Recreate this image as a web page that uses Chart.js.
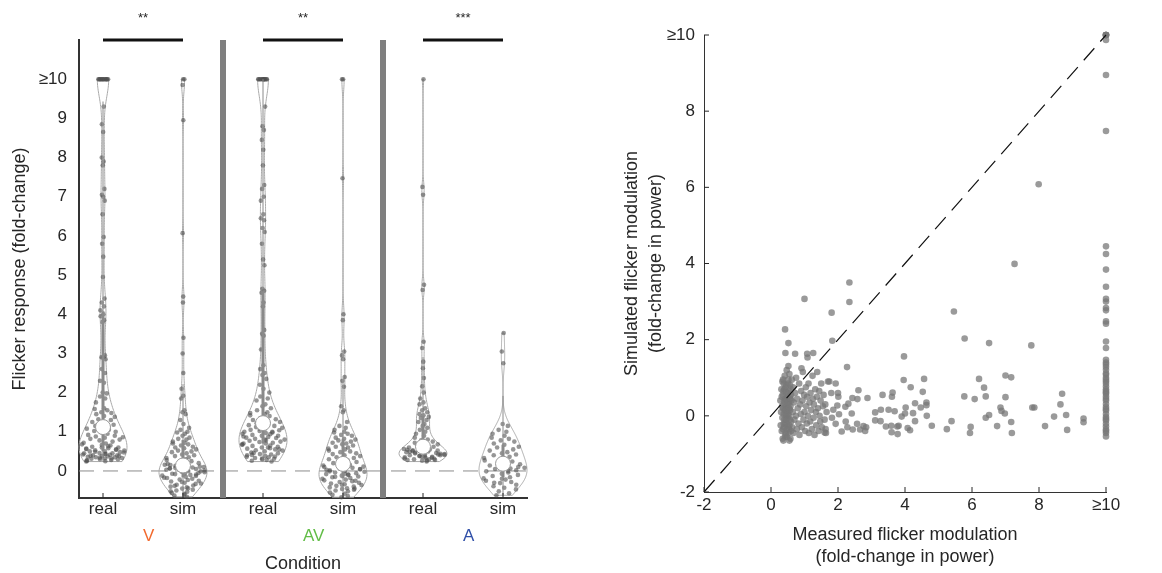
<!DOCTYPE html>
<html>
<head>
<meta charset="utf-8">
<script src="https://cdn.jsdelivr.net/npm/chart.js@4/dist/chart.umd.min.js"></script>
<style>
  html, body { margin: 0; padding: 0; background: #fff; }
  #wrap { position: relative; width: 1162px; height: 573px; }
  #violin { position: absolute; left: 0; top: 0; }
  #scatter { position: absolute; left: 600px; top: 0; }
</style>
</head>
<body>
<div id="wrap">
  <canvas id="violin" width="600" height="573"></canvas>
  <canvas id="scatter" width="562" height="573"></canvas>
</div>
<script>
// ---------- flicker response per condition (fold-change, >=10 clipped to 10) ----------
const realV = [
  10, 10, 10, 10, 10, 10, 10, 10, 10, 10, 10, 10, 10, 10,
  9.3, 8.85, 8.65, 8.0, 7.9, 7.8, 7.2, 7.05, 7.0, 6.9,
  6.55, 5.97, 5.8, 5.47, 4.95, 4.4, 4.3, 4.2, 4.1, 4.0,
  3.95, 3.85, 3.8, 2.95, 2.9, 2.9, 2.85, 2.6, 2.5, 2.3,
  2.25, 2.0, 1.98, 1.9, 1.85, 1.75, 1.6, 1.58, 1.55, 1.5,
  1.48, 1.45, 1.4, 1.38, 1.32, 1.3, 1.25, 1.22, 1.2, 1.18, 1.15, 1.12,
  0.24, 0.25, 0.26, 0.28, 0.3, 0.3, 0.31, 0.32, 0.33, 0.35,
  0.35, 0.36, 0.37, 0.38, 0.4, 0.4, 0.41, 0.42, 0.43, 0.45,
  0.45, 0.46, 0.48, 0.5, 0.5, 0.52, 0.53, 0.55, 0.56, 0.58,
  0.6, 0.6, 0.62, 0.65, 0.68, 0.7, 0.72, 0.75, 0.78, 0.8,
  0.82, 0.85, 0.86, 0.88, 0.9, 0.92, 0.95, 0.98, 1.0, 1.02,
  1.05, 1.08, 1.1, 0.27, 0.32, 0.34, 0.38, 0.39, 0.44, 0.47,
  0.49, 0.54, 0.57, 0.63, 0.66
];
const simV = [
  10, 10, 9.85, 8.95, 6.07, 4.45, 4.3, 3.4, 3.0, 2.5,
  2.1, 1.92, 1.85, 1.55, 1.5, 1.45, 1.3, 1.2, 1.1, 1.05,
  1.0, 0.98, 0.95, 0.9, 0.85, 0.82, 0.8, 0.75, 0.72, 0.7,
  0.68, 0.65, 0.62, 0.6, 0.58, 0.55, 0.52, 0.5, 0.48, 0.45,
  0.42, 0.4, 0.38, 0.35, 0.33, 0.3, 0.28, 0.25, 0.22, 0.2,
  0.15, 0.12, 0.1, 0.08, 0.05, 0.03, 0.0, -0.02, -0.05, -0.07,
  -0.1, -0.12, -0.15, -0.17, -0.2, -0.22, -0.25, -0.27, -0.3, -0.32,
  -0.35, -0.37, -0.4, -0.42, -0.45, -0.48, -0.5, -0.53, -0.56, -0.6,
  -0.63, -0.66, 0.14, 0.11, 0.06, 0.02, -0.03, -0.08, -0.13, -0.18,
  -0.23, -0.28, -0.33, -0.38, -0.44, -0.52, -0.58, 0.16, 0.09, 0.04,
  -0.01, 0.07, -0.06, 0.01, 0.13, -0.09, 0.18
];
const realAV = [
  10, 10, 10, 10, 10, 10, 10, 10, 10, 10, 10, 10, 10,
  9.3, 8.8, 8.7, 8.45, 8.2, 7.8, 7.3, 7.2, 7.0, 6.9,
  6.55, 6.45, 6.4, 6.2, 6.1, 5.8, 5.4, 5.25, 4.65, 4.6,
  4.55, 4.3, 4.2, 3.6, 3.5, 3.45, 3.1, 2.7, 2.6, 2.5,
  2.45, 2.35, 2.2, 2.1, 2.0, 1.9, 1.85, 1.8, 1.7, 1.65,
  1.6, 1.55, 1.5, 1.48, 1.45, 1.42, 1.4, 1.35, 1.32, 1.3, 1.28, 1.25, 1.22,
  0.24, 0.26, 0.28, 0.3, 0.31, 0.33, 0.35, 0.36, 0.38, 0.4,
  0.42, 0.43, 0.45, 0.47, 0.5, 0.52, 0.53, 0.55, 0.57, 0.6,
  0.6, 0.62, 0.64, 0.65, 0.67, 0.7, 0.7, 0.72, 0.74, 0.75,
  0.77, 0.8, 0.8, 0.82, 0.84, 0.85, 0.87, 0.9, 0.9, 0.92,
  0.94, 0.95, 0.97, 1.0, 1.0, 1.02, 1.04, 1.05, 1.07, 1.1,
  1.12, 1.15, 1.17, 1.2, 0.32, 0.37, 0.46, 0.58, 0.68, 0.78,
  0.88, 0.98, 1.08, 0.55, 0.41
];
const simAV = [
  10, 10, 7.47, 4.0, 3.85, 3.05, 2.95, 2.85, 2.4, 2.3,
  2.15, 1.65, 1.55, 1.5, 1.25, 1.15, 1.1, 1.05, 1.0, 0.98,
  0.95, 0.92, 0.9, 0.85, 0.82, 0.8, 0.78, 0.75, 0.72, 0.7,
  0.68, 0.65, 0.62, 0.6, 0.57, 0.55, 0.52, 0.5, 0.48, 0.45,
  0.43, 0.4, 0.38, 0.35, 0.33, 0.3, 0.28, 0.25, 0.23, 0.2,
  0.16, 0.14, 0.12, 0.1, 0.08, 0.06, 0.04, 0.02, 0.0, -0.02,
  -0.04, -0.06, -0.08, -0.1, -0.12, -0.14, -0.16, -0.18, -0.2, -0.22,
  -0.24, -0.26, -0.28, -0.3, -0.32, -0.34, -0.36, -0.38, -0.4, -0.42,
  -0.44, -0.46, -0.48, -0.5, -0.52, -0.55, -0.58, -0.61, -0.64, -0.67,
  0.05, -0.01, -0.07, 0.11, -0.15, -0.25, 0.03, -0.09, -0.35, -0.45
];
const realA = [
  10, 7.25, 7.05, 4.75, 4.62, 3.3, 3.14, 2.79, 2.62, 2.37,
  2.16, 2.0, 1.85, 1.75, 1.7, 1.6, 1.55, 1.5, 1.45, 1.42,
  1.38, 1.35, 1.3, 1.25, 1.2, 1.15, 1.1, 1.05, 1.0, 0.95,
  0.9, 0.85, 0.8, 0.78, 0.75, 0.72, 0.7, 0.68, 0.65, 0.62, 0.6,
  0.24, 0.26, 0.28, 0.3, 0.3, 0.32, 0.33, 0.35, 0.36, 0.38,
  0.4, 0.4, 0.42, 0.43, 0.45, 0.46, 0.48, 0.5, 0.5, 0.52,
  0.53, 0.55, 0.56, 0.58, 0.28, 0.34, 0.39, 0.44, 0.49, 0.37,
  0.41, 0.47, 0.31, 0.54, 0.27, 0.36, 0.42, 0.51
];
const simA = [
  3.52, 3.05, 2.75, 1.2, 1.15, 1.05, 1.0, 0.95, 0.9, 0.85,
  0.82, 0.78, 0.75, 0.7, 0.67, 0.62, 0.6, 0.55, 0.52, 0.48,
  0.45, 0.42, 0.4, 0.36, 0.33, 0.3, 0.27, 0.24, 0.2, 0.17,
  0.14, 0.11, 0.08, 0.05, 0.02, -0.01, -0.04, -0.07, -0.1, -0.13,
  -0.16, -0.19, -0.22, -0.25, -0.28, -0.31, -0.35, -0.39, -0.43, -0.47,
  -0.52, -0.57, -0.62, 0.0, -0.2, 0.1, -0.3, 0.06
];

const tickNames = ['real', 'sim', 'real', 'sim', 'real', 'sim'];
const tickPos = [1, 2, 3, 4, 5, 6];
const conditions = ['V', 'AV', 'A'];
const conditionColors = ['#f26a2e', '#62bd47', '#2f4fa8'];
const conditionPos = [1.5, 3.5, 5.5];
const dividerPos = [2.5, 4.5];
const significance = ['**', '**', '***'];
const yTicksLeft = [0, 1, 2, 3, 4, 5, 6, 7, 8, 9, 10];

// ---------- measured vs simulated modulation, one pair per neuron ----------
const neuronPairs = [
  // dense low cluster
  [0.30, 0.10], [0.32, -0.40], [0.35, 0.55], [0.36, 0.95], [0.38, -0.20], [0.40, 0.30], [0.41, 1.05], [0.42, -0.55], [0.43, 0.75], [0.44, 0.05],
  [0.45, -0.10], [0.46, 0.45], [0.47, 1.20], [0.48, -0.35], [0.49, 0.20], [0.50, 0.60], [0.50, -0.05], [0.51, 0.85], [0.52, -0.45], [0.53, 0.35],
  [0.54, 0.00], [0.55, 1.10], [0.55, -0.25], [0.56, 0.50], [0.57, 0.15], [0.58, -0.60], [0.59, 0.70], [0.60, -0.15], [0.61, 0.40], [0.62, 0.95],
  [0.33, 0.25], [0.34, -0.05], [0.37, 0.65], [0.39, -0.30], [0.41, 0.15], [0.43, -0.45], [0.44, 0.40], [0.46, 0.00], [0.47, -0.20], [0.49, 0.50],
  [0.31, 0.70], [0.35, -0.60], [0.38, 0.85], [0.40, -0.10], [0.42, 0.45], [0.45, 0.25], [0.48, 0.10], [0.52, 0.30], [0.54, -0.35], [0.57, 0.80],
  [0.28, 0.40], [0.29, -0.25], [0.36, 0.20], [0.44, -0.50], [0.51, 0.05], [0.53, 0.65], [0.58, 0.25], [0.60, 0.55], [0.63, -0.30], [0.65, 0.10],
  [0.32, 0.50], [0.34, 0.90], [0.36, -0.35], [0.38, 0.05], [0.40, 0.70], [0.42, -0.20], [0.44, 0.15], [0.46, 0.80], [0.48, -0.55], [0.50, 0.35],
  [0.52, 0.95], [0.54, 0.20], [0.56, -0.10], [0.58, 0.45], [0.60, -0.40], [0.37, -0.65], [0.55, -0.65], [0.45, 0.62], [0.39, 0.38], [0.51, -0.28],
  [0.66, 0.75], [0.67, -0.45], [0.68, 0.35], [0.70, -0.10], [0.72, 0.60], [0.74, 0.00], [0.75, 1.00], [0.77, -0.35], [0.78, 0.45], [0.80, 0.20],
  [0.82, -0.20], [0.84, 0.85], [0.85, -0.50], [0.87, 0.30], [0.89, 0.05], [0.90, 0.65], [0.92, -0.30], [0.94, 0.40], [0.95, 1.15], [0.97, -0.10],
  [0.99, 0.55], [1.00, 0.10], [1.02, -0.40], [1.04, 0.75], [1.05, 0.25], [1.07, -0.20], [1.08, 0.50], [1.10, 0.00], [1.12, 0.85], [1.13, -0.45],
  [1.15, 0.35], [1.17, -0.15], [1.18, 0.60], [1.20, 0.15], [1.22, -0.35], [1.24, 1.05], [1.25, 0.45], [1.27, -0.05], [1.28, 0.30], [1.30, -0.50],
  [1.32, 0.70], [1.34, 0.10], [1.35, -0.25], [1.37, 0.50], [1.38, 1.15], [1.40, 0.20], [1.42, -0.40], [1.44, 0.65], [1.45, 0.00], [1.47, -0.15],
  [1.48, 0.40], [1.50, 0.85], [1.52, -0.30], [1.55, 0.25], [1.57, 0.55], [1.60, -0.10], [1.62, 0.30], [1.64, -0.45], [1.66, 0.10], [1.70, 0.90],
  // upper scatter near the identity line
  [1.00, 3.07], [2.34, 3.50], [2.34, 2.99], [1.81, 2.71], [0.42, 2.27], [0.52, 1.91], [1.83, 1.97], [0.43, 1.65], [0.72, 1.63], [1.08, 1.63],
  [1.26, 1.65], [1.09, 1.53], [2.27, 1.28], [0.52, 1.31], [0.91, 1.25],
  // 1.6 - 3
  [1.74, 0.90], [1.93, 0.85], [2.00, 0.60], [2.01, 0.50], [2.43, 0.47], [2.58, 0.44], [2.61, 0.67], [2.88, 0.47], [2.31, 0.32], [2.22, 0.24],
  [2.41, 0.06], [2.23, -0.15], [2.11, -0.41], [2.28, -0.30], [2.44, -0.36], [2.57, -0.21], [2.66, -0.36], [2.76, -0.27], [2.81, -0.40], [2.84, -0.30],
  [1.93, -0.21], [1.98, 0.27], [1.86, 0.16], [2.03, 0.04], [1.82, -0.05], [1.60, -0.44], [1.63, -0.35], [1.80, 0.60],
  // 3 - 9.4
  [3.97, 1.56], [3.96, 0.94], [4.17, 0.75], [4.57, 0.97], [4.53, 0.63], [3.63, 0.61], [3.33, 0.55], [3.61, 0.50], [4.30, 0.33], [4.64, 0.35],
  [4.64, 0.28], [4.47, 0.22], [4.02, 0.22], [3.51, 0.16], [3.28, 0.16], [3.11, 0.09], [3.69, 0.12], [4.24, 0.07], [4.65, 0.00], [3.90, -0.02],
  [4.00, 0.06], [3.11, -0.12], [3.27, -0.14], [4.30, -0.14], [3.43, -0.28], [3.59, -0.26], [3.77, -0.28], [3.81, -0.26], [4.08, -0.32], [4.15, -0.38],
  [3.60, -0.43], [3.78, -0.48], [4.80, -0.26], [5.25, -0.35], [5.39, -0.14], [5.46, 2.74], [5.78, 2.03], [6.51, 1.91], [7.77, 1.85], [7.27, 3.99],
  [7.99, 6.08], [5.77, 0.51], [6.08, 0.44], [6.21, 0.97], [6.36, 0.74], [6.41, 0.51], [5.96, -0.29], [5.94, -0.45], [6.41, -0.05], [6.51, 0.02],
  [6.75, -0.27], [6.85, 0.22], [6.88, 0.13], [7.00, 1.06], [7.17, 1.01], [7.00, 0.49], [6.98, 0.06], [7.17, -0.16], [7.19, -0.45], [7.80, 0.22],
  [7.86, 0.22], [8.18, -0.27], [8.45, -0.02], [8.64, 0.30], [8.69, 0.58], [8.81, 0.02], [8.84, -0.37], [9.33, -0.07], [9.33, -0.17],
  // measured >= 10
  [10, 10], [10, 10], [10, 10], [10, 10], [10, 10], [10, 9.87], [10, 8.95], [10, 7.48], [10, 4.45], [10, 4.25],
  [10, 3.84], [10, 3.39], [10, 3.07], [10, 3.00], [10, 2.83], [10, 2.77], [10, 2.48], [10, 2.42], [10, 1.95], [10, 1.78],
  [10, 1.47], [10, 1.40], [10, 1.28], [10, 1.21], [10, 1.08], [10, 1.00], [10, 0.90], [10, 0.84], [10, 0.77], [10, 0.70],
  [10, 0.61], [10, 0.51], [10, 0.40], [10, 0.31], [10, 0.23], [10, 0.14], [10, 0.05], [10, -0.03], [10, -0.12], [10, -0.21],
  [10, -0.28], [10, -0.36], [10, -0.45], [10, -0.54], [10, 1.12], [10, 0.95], [10, 0.65], [10, 0.45], [10, 0.18], [10, -0.08],
  [10, -0.40], [10, 1.35], [10, 0.58]
];
const identityLine = [-2, 10];
const scatterTicks = [-2, 0, 2, 4, 6, 8, 10];

const FONT = '"Liberation Sans", Arial, Helvetica, sans-serif';
const INK = '#262626';

// spread of points across the violin, as a fraction of the local half-width
const jitterFrac = [-0.82, 0.41, -0.15, 0.73, -0.56, 0.08, 0.9, -0.33, 0.55, -0.7, 0.22, -0.05, 0.64, -0.45, 0.31, -0.88, 0.12];

// MATLAB-style quantile on sorted values
function quantile(s, p) {
    const n = s.length;
    const h = n * p + 0.5;
    if (h <= 1) return s[0];
    if (h >= n) return s[n - 1];
    const lo = Math.floor(h);
    return s[lo - 1] + (h - lo) * (s[lo] - s[lo - 1]);
}

// kernel density outline + box stats, the way violinplot does it
function buildViolin(vals, pos) {
    const s = [...vals].sort((a, b) => a - b);
    const n = s.length;
    const med = quantile(s, 0.5);
    const dev = s.map(v => Math.abs(v - med)).sort((a, b) => a - b);
    const bw = (quantile(dev, 0.5) / 0.6745) * Math.pow(4 / (3 * n), 0.2);
    const dens = t => s.reduce((acc, v) => acc + Math.exp(-0.5 * ((t - v) / bw) ** 2), 0);
    const lo = s[0], hi = s[n - 1];
    const ys = [], ds = [];
    for (let i = 0; i <= 240; i++) {
        const t = lo + (hi - lo) * i / 240;
        ys.push(t);
        ds.push(dens(t));
    }
    const peak = Math.max(...ds);
    const half = t => 0.3 * dens(t) / peak;
    const q1 = quantile(s, 0.25), q3 = quantile(s, 0.75);
    const iqr = q3 - q1;
    return {
        pos, ys, ws: ds.map(d => 0.3 * d / peak), half,
        med, q1, q3,
        wLo: Math.max(q1 - 1.5 * iqr, lo),
        wHi: Math.min(q3 + 1.5 * iqr, hi),
    };
}

const groupVals = [realV, simV, realAV, simAV, realA, simA];
const violins = groupVals.map((v, i) => buildViolin(v, tickPos[i]));

const violinDatasets = groupVals.map((vals, g) => ({
    data: vals.map((v, i) => ({
        x: violins[g].pos + jitterFrac[(i + g * 5) % jitterFrac.length] * violins[g].half(v),
        y: v,
    })),
    pointRadius: 2.3,
    pointBackgroundColor: 'rgba(80,80,80,0.6)',
    pointBorderWidth: 0,
    clip: false,
}));

const violinLayer = {
    id: 'violinLayer',
    beforeDatasetsDraw(chart) {
        const { ctx, chartArea: a, scales: { x, y } } = chart;
        ctx.save();
        // zero reference
        ctx.strokeStyle = '#8c8c8c';
        ctx.lineWidth = 1;
        ctx.setLineDash([15, 9]);
        ctx.beginPath();
        ctx.moveTo(a.left, y.getPixelForValue(0));
        ctx.lineTo(a.right, y.getPixelForValue(0));
        ctx.stroke();
        ctx.setLineDash([]);
        // condition dividers
        ctx.fillStyle = '#7f7f7f';
        dividerPos.forEach(d => {
            const px = x.getPixelForValue(d);
            ctx.fillRect(px - 3, a.top, 6, a.bottom - a.top);
        });
        // violin outlines
        ctx.strokeStyle = '#a9a9a9';
        ctx.lineWidth = 1;
        violins.forEach(v => {
            ctx.beginPath();
            v.ys.forEach((t, i) => {
                const px = x.getPixelForValue(v.pos + v.ws[i]);
                const py = y.getPixelForValue(t);
                if (i === 0) ctx.moveTo(px, py); else ctx.lineTo(px, py);
            });
            for (let i = v.ys.length - 1; i >= 0; i--) {
                ctx.lineTo(x.getPixelForValue(v.pos - v.ws[i]), y.getPixelForValue(v.ys[i]));
            }
            ctx.closePath();
            ctx.stroke();
        });
        ctx.restore();
    },
    afterDatasetsDraw(chart) {
        const { ctx, chartArea: a, scales: { x, y } } = chart;
        ctx.save();
        violins.forEach(v => {
            const px = x.getPixelForValue(v.pos);
            // whiskers
            ctx.strokeStyle = '#8a8a8a';
            ctx.lineWidth = 1;
            ctx.beginPath();
            ctx.moveTo(px, y.getPixelForValue(v.wLo));
            ctx.lineTo(px, y.getPixelForValue(v.wHi));
            ctx.stroke();
            // interquartile box
            ctx.fillStyle = '#8a8a8a';
            const top = y.getPixelForValue(v.q3), bot = y.getPixelForValue(v.q1);
            ctx.fillRect(px - 1.5, top, 3, bot - top);
            // median marker
            ctx.beginPath();
            ctx.arc(px, y.getPixelForValue(v.med), 7.5, 0, Math.PI * 2);
            ctx.fillStyle = '#fff';
            ctx.fill();
            ctx.strokeStyle = '#9a9a9a';
            ctx.stroke();
        });
        // tick marks inside the bottom axis
        ctx.strokeStyle = INK;
        ctx.lineWidth = 1;
        tickPos.forEach(t => {
            const px = x.getPixelForValue(t);
            ctx.beginPath();
            ctx.moveTo(px, a.bottom);
            ctx.lineTo(px, a.bottom - 5);
            ctx.stroke();
        });
        // significance bars and stars
        ctx.strokeStyle = '#111';
        ctx.lineWidth = 3;
        ctx.fillStyle = INK;
        ctx.font = '13px ' + FONT;
        ctx.textAlign = 'center';
        ctx.textBaseline = 'middle';
        significance.forEach((label, i) => {
            const x1 = x.getPixelForValue(tickPos[i * 2]);
            const x2 = x.getPixelForValue(tickPos[i * 2 + 1]);
            const py = y.getPixelForValue(11);
            ctx.beginPath();
            ctx.moveTo(x1, py);
            ctx.lineTo(x2, py);
            ctx.stroke();
            ctx.fillText(label, (x1 + x2) / 2, py - 22);
        });
        // condition names
        ctx.font = '17px ' + FONT;
        ctx.textAlign = 'left';
        conditions.forEach((c, i) => {
            ctx.fillStyle = conditionColors[i];
            ctx.fillText(c, x.getPixelForValue(conditionPos[i]), 536);
        });
        ctx.font = '18px ' + FONT;
        ctx.fillStyle = INK;
        ctx.textAlign = 'center';
        ctx.fillText('Condition', x.getPixelForValue(3.5), 564);
        // y title
        ctx.translate(20, (a.top + a.bottom) / 2);
        ctx.rotate(-Math.PI / 2);
        ctx.fillText('Flicker response (fold-change)', 0, 0);
        ctx.restore();
    },
};

new Chart(document.getElementById('violin'), {
    type: 'scatter',
    data: { datasets: violinDatasets },
    options: {
        responsive: false,
        animation: false,
        layout: { padding: { top: 40, right: 73, left: 0, bottom: 0 } },
        plugins: { legend: { display: false }, tooltip: { enabled: false } },
        scales: {
            x: {
                type: 'linear', min: 0.7, max: 6.3,
                afterBuildTicks: s => { s.ticks = tickPos.map(v => ({ value: v })); },
                afterFit: s => { s.height = 75; },
                ticks: {
                    callback: (v, i) => tickNames[i],
                    color: INK, padding: 1, maxRotation: 0,
                    font: { size: 17, family: FONT },
                },
                grid: { display: false, drawTicks: false },
                border: { display: true, color: '#333', width: 2 },
            },
            y: {
                type: 'linear', min: -0.69, max: 11,
                afterBuildTicks: s => { s.ticks = yTicksLeft.map(v => ({ value: v })); },
                afterFit: s => { s.width = 79; },
                ticks: {
                    callback: v => (v === 10 ? '≥10' : v),
                    color: INK, padding: 12,
                    font: { size: 17, family: FONT },
                },
                grid: { display: false, drawTicks: false },
                border: { display: true, color: '#333', width: 2 },
            },
        },
    },
    plugins: [violinLayer],
});

// ---------- right panel ----------
const scatterLayer = {
    id: 'scatterLayer',
    afterDraw(chart) {
        const { ctx, chartArea: a, scales: { x, y } } = chart;
        ctx.save();
        ctx.strokeStyle = INK;
        ctx.lineWidth = 1;
        scatterTicks.forEach(t => {
            const px = x.getPixelForValue(t);
            ctx.beginPath();
            ctx.moveTo(px, a.bottom);
            ctx.lineTo(px, a.bottom - 5);
            ctx.stroke();
            const py = y.getPixelForValue(t);
            ctx.beginPath();
            ctx.moveTo(a.left, py);
            ctx.lineTo(a.left + 5, py);
            ctx.stroke();
        });
        ctx.fillStyle = INK;
        ctx.font = '18px ' + FONT;
        ctx.textAlign = 'center';
        ctx.textBaseline = 'middle';
        const cx = (a.left + a.right) / 2;
        ctx.fillText('Measured flicker modulation', cx, 535);
        ctx.fillText('(fold-change in power)', cx, 557);
        ctx.translate(32, (a.top + a.bottom) / 2);
        ctx.rotate(-Math.PI / 2);
        ctx.fillText('Simulated flicker modulation', 0, 0);
        ctx.fillText('(fold-change in power)', 0, 24);
        ctx.restore();
    },
};

new Chart(document.getElementById('scatter'), {
    type: 'scatter',
    data: {
        datasets: [
            {
                data: identityLine.map(v => ({ x: v, y: v })),
                showLine: true,
                borderColor: '#111',
                borderWidth: 1.2,
                borderDash: [16, 9],
                pointRadius: 0,
                clip: false,
            },
            {
                data: neuronPairs.map(([m, s]) => ({ x: m, y: s })),
                pointRadius: 3.3,
                pointBackgroundColor: 'rgba(120,120,120,0.75)',
                pointBorderWidth: 0,
                clip: false,
            },
        ],
    },
    options: {
        responsive: false,
        animation: false,
        layout: { padding: { top: 35, right: 56, left: 0, bottom: 0 } },
        plugins: { legend: { display: false }, tooltip: { enabled: false } },
        scales: {
            x: {
                type: 'linear', min: -2, max: 10,
                afterBuildTicks: s => { s.ticks = scatterTicks.map(v => ({ value: v })); },
                afterFit: s => { s.height = 81; },
                ticks: {
                    callback: v => (v === 10 ? '≥10' : v),
                    color: INK, padding: 3, maxRotation: 0,
                    font: { size: 17, family: FONT },
                },
                grid: { display: false, drawTicks: false },
                border: { display: true, color: '#333', width: 1 },
            },
            y: {
                type: 'linear', min: -2, max: 10,
                afterBuildTicks: s => { s.ticks = scatterTicks.map(v => ({ value: v })); },
                afterFit: s => { s.width = 104; },
                ticks: {
                    callback: v => (v === 10 ? '≥10' : v),
                    color: INK, padding: 9,
                    font: { size: 17, family: FONT },
                },
                grid: { display: false, drawTicks: false },
                border: { display: true, color: '#333', width: 1 },
            },
        },
    },
    plugins: [scatterLayer],
});
</script>
</body>
</html>
